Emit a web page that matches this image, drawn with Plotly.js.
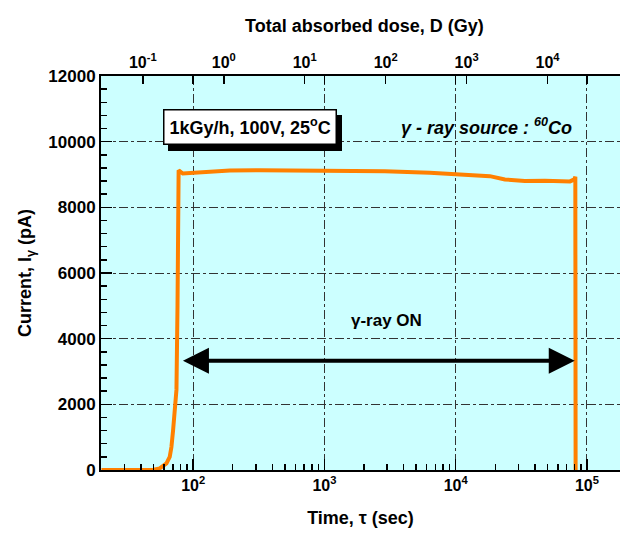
<!DOCTYPE html>
<html>
<head>
<meta charset="utf-8">
<script src="https://cdn.plot.ly/plotly-3.0.1.min.js"></script>
<style>html,body{margin:0;padding:0;background:#fff;}#chart{width:620px;height:534px;}</style>
</head>
<body>
<div id="chart"></div>
<script>
// Measured photocurrent during gamma irradiation
var timeSec = [20, 30, 40, 50, 55.6, 62.5, 66.2, 68.2, 70.2, 72.3, 74.5, 75.9, 76.9, 77.4, 83.2, 112, 190, 321, 920, 2880, 6350, 10200, 18200, 23700, 33600, 47800, 74200, 80000, 81500, 81900];
var currentPA = [0, 0, 0, 10, 50, 200, 400, 700, 1200, 1830, 2440, 5000, 9000, 9130, 9030, 9060, 9120, 9130, 9120, 9100, 9050, 9010, 8950, 8850, 8800, 8810, 8790, 8850, 8930, 0];

// gamma-ray ON interval (arrow ends, sec) and its level (pA)
var gammaOnStart = 81.3;
var gammaOnEnd = 80700;
var gammaOnLevel = 3330;

// tick labels
var timeTickVals = [100, 1000, 10000, 100000];
var timeTickText = ["10<sup>2</sup>", "10<sup>3</sup>", "10<sup>4</sup>", "10<sup>5</sup>"];
var doseTickVals = [0.1, 1, 10, 100, 1000, 10000];
var doseTickText = ["10<sup>-1</sup>", "10<sup>0</sup>", "10<sup>1</sup>", "10<sup>2</sup>", "10<sup>3</sup>", "10<sup>4</sup>"];
var currentTickVals = [0, 2000, 4000, 6000, 8000, 10000, 12000];
var currentTickText = ["0", "2000", "4000", "6000", "8000", "10000", "12000"];

var minorTime = [];
for (var e = 1; e <= 5; e++) {
  for (var m = 2; m <= 9; m++) minorTime.push(m * Math.pow(10, e));
}

var FONT = "Liberation Sans, Arial, Helvetica, sans-serif";
var tickFont = {family: FONT, size: 16, color: "#000", weight: "bold"};
var yTickFont = {family: FONT, size: 17, color: "#000", weight: "bold"};
var titleFont = {family: FONT, size: 18, color: "#000", weight: "bold"};
var noteFont = {family: FONT, size: 18, color: "#000", weight: "bold"};

var traces = [
  {x: timeSec, y: currentPA, type: "scatter", mode: "lines", xaxis: "x", yaxis: "y",
   line: {color: "#FF8000", width: 4}, hoverinfo: "skip", showlegend: false},
  {x: [], y: [], type: "scatter", mode: "lines", xaxis: "x2", yaxis: "y", showlegend: false},
  {x: [], y: [], type: "scatter", mode: "lines", xaxis: "x3", yaxis: "y", showlegend: false}
];

var boxText = "1kGy/h, 100V, 25<sup>o</sup>C";

var layout = {
  width: 620, height: 534,
  margin: {l: 101, r: 0, t: 76, b: 64},
  paper_bgcolor: "#ffffff",
  plot_bgcolor: "#CCFFFF",
  font: {family: FONT, color: "#000"},
  showlegend: false,
  xaxis: {
    type: "log", range: [1.2973, 5.2515],
    tickmode: "array", tickvals: timeTickVals, ticktext: timeTickText,
    ticks: "inside", ticklen: 11, tickwidth: 1.5, tickcolor: "#000",
    minor: {tickmode: "array", tickvals: minorTime, ticks: "inside", ticklen: 6, tickwidth: 1.5, tickcolor: "#000", showgrid: false},
    showgrid: true, gridcolor: "#333", griddash: "dashdot", gridwidth: 1,
    showline: true, linecolor: "#000", linewidth: 2,
    zeroline: false,
    tickfont: tickFont,
    title: {text: "Time, τ (sec)", font: titleFont, standoff: 18}
  },
  xaxis2: {
    type: "log", range: [-1.5167, 4.895], overlaying: "x", side: "top", anchor: "y",
    tickmode: "array", tickvals: doseTickVals, ticktext: doseTickText,
    ticks: "inside", ticklen: 8, tickwidth: 1.5, tickcolor: "#000",
    showgrid: false, showline: true, linecolor: "#000", linewidth: 2, zeroline: false,
    tickfont: tickFont
  },
  xaxis3: {
    type: "log", range: [1.2973, 5.2515], overlaying: "x", side: "top", anchor: "y",
    tickmode: "array", tickvals: timeTickVals,
    ticks: "inside", ticklen: 8, tickwidth: 1.5, tickcolor: "#000",
    showticklabels: false, showgrid: false, showline: false, zeroline: false
  },
  yaxis: {
    range: [0, 12000],
    tickmode: "array", tickvals: currentTickVals, ticktext: currentTickText,
    ticks: "inside", ticklen: 11, tickwidth: 1.5, tickcolor: "#000",
    minor: {dtick: 400, tick0: 0, ticks: "inside", ticklen: 6, tickwidth: 1.5, tickcolor: "#000", showgrid: false},
    showgrid: true, gridcolor: "#333", griddash: "dashdot", gridwidth: 1,
    showline: true, linecolor: "#000", linewidth: 2, zeroline: false,
    tickfont: yTickFont,
    title: {text: "Current, I<sub>γ</sub> (pA)", font: titleFont, standoff: 12}
  },
  annotations: [
    {xref: "paper", yref: "paper", x: 0.507, y: 1.127, xanchor: "center", yanchor: "middle",
     text: "Total absorbed dose, D (Gy)", showarrow: false, font: titleFont},
    {xref: "paper", yref: "y", x: 0.287, y: 10462, xanchor: "center", yanchor: "middle",
     text: boxText, showarrow: false, font: noteFont,
     bgcolor: "#000", bordercolor: "#000", borderwidth: 1.5, borderpad: 5,
     xshift: 5, yshift: -6},
    {xref: "paper", yref: "y", x: 0.287, y: 10462, xanchor: "center", yanchor: "middle",
     text: boxText, showarrow: false, font: noteFont,
     bgcolor: "#fff", bordercolor: "#000", borderwidth: 1.5, borderpad: 5},
    {xref: "paper", yref: "y", x: 0.742, y: 10447, xanchor: "center", yanchor: "middle",
     text: "<i>γ - ray source : <sup>60</sup>Co</i>", showarrow: false, font: noteFont},
    {xref: "paper", yref: "y", x: 0.5505, y: 4547, xanchor: "center", yanchor: "middle",
     text: "γ-ray ON", showarrow: false,
     font: {family: FONT, size: 17, color: "#000", weight: "bold"}},
    {xref: "x", yref: "y", axref: "x", ayref: "y",
     x: Math.log10(gammaOnEnd), y: gammaOnLevel,
     ax: Math.log10(gammaOnStart), ay: gammaOnLevel,
     text: "", showarrow: true, arrowside: "end+start", arrowhead: 2, arrowsize: 1.3,
     arrowwidth: 4, arrowcolor: "#000", standoff: 0, startstandoff: 0}
  ]
};

Plotly.newPlot("chart", traces, layout, {displayModeBar: false, staticPlot: true});
</script>
</body>
</html>
